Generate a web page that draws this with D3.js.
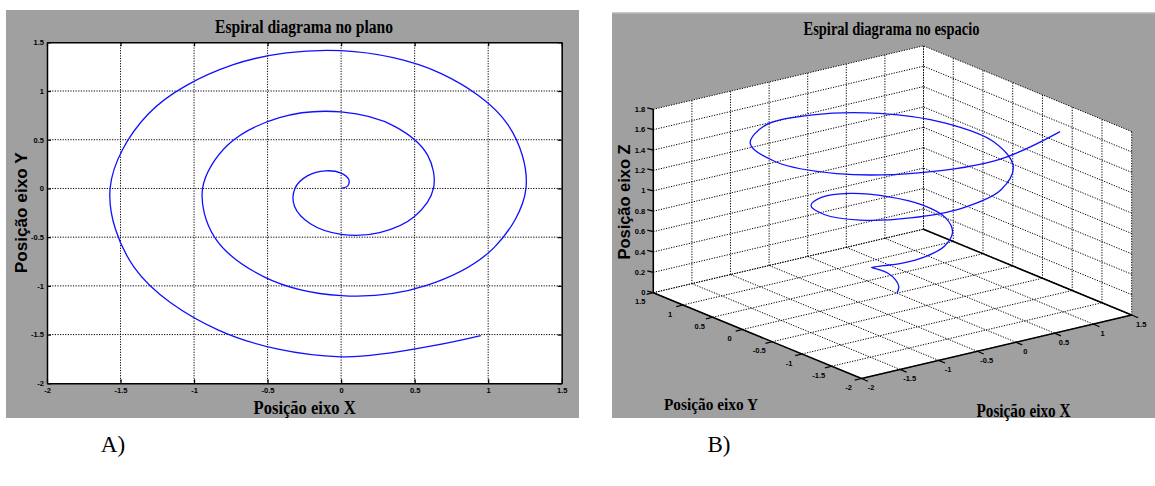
<!DOCTYPE html>
<html>
<head>
<meta charset="utf-8">
<script src="https://cdn.jsdelivr.net/npm/d3@7"></script>
<style>
  body { margin: 0; background: #fff; }
  svg { display: block; }
</style>
</head>
<body>
<div id="chart"></div>
<script>
// spiral points (one every 30 degrees of turn)
var xVals = [0, 0.045, 0.052, 0, -0.105, -0.227, -0.314, -0.317, -0.209, 0, 0.262, 0.499,
             0.628, 0.589, 0.367, 0, -0.419, -0.771, -0.942, -0.862, -0.524, 0, 0.576, 1.043,
             1.257, 1.134, 0.681, 0, -0.733, -1.315, -1.571, -1.406, -0.838, 0, 0.95];
var yVals = [0, 0.026, 0.091, 0.157, 0.181, 0.131, 0, -0.183, -0.363, -0.471, -0.453, -0.288,
             0, 0.340, 0.635, 0.785, 0.726, 0.445, 0, -0.497, -0.907, -1.100, -0.998, -0.602,
             0, 0.655, 1.179, 1.414, 1.270, 0.759, 0, -0.812, -1.451, -1.728, -1.51];
var zVals = [0, 0.05, 0.10, 0.16, 0.21, 0.26, 0.31, 0.37, 0.42, 0.47, 0.52, 0.58,
             0.63, 0.68, 0.73, 0.79, 0.84, 0.89, 0.94, 0.99, 1.05, 1.10, 1.15, 1.20,
             1.26, 1.31, 1.36, 1.41, 1.47, 1.52, 1.57, 1.62, 1.68, 1.73, 1.78];

var xTicks = [-2, -1.5, -1, -0.5, 0, 0.5, 1, 1.5];
var yTicks = [-2, -1.5, -1, -0.5, 0, 0.5, 1, 1.5];
var zTicks = [0, 0.2, 0.4, 0.6, 0.8, 1, 1.2, 1.4, 1.6, 1.8];

var titlePlano = "Espiral diagrama no plano",
    titleEspaco = "Espiral diagrama no espacio",
    labelX = "Posição eixo X",
    labelY = "Posição eixo Y",
    labelZ = "Posição eixo Z";

var width = 1155, height = 486;
var grey = "#a0a0a0";
var serif = "'Liberation Serif', 'Times New Roman', serif",
    sans = "'Liberation Sans', Arial, sans-serif";

var svg = d3.select("#chart").append("svg")
    .attr("width", width)
    .attr("height", height);

var idx = d3.range(xVals.length);
var fmt = function(d) { return String(d); };

// ---------- A) plano ----------
svg.append("rect").attr("x", 6).attr("y", 10).attr("width", 573).attr("height", 408).attr("fill", grey);

var xL = d3.scaleLinear().domain([-2, 1.5]).range([47, 561.7]),
    yL = d3.scaleLinear().domain([-2, 1.5]).range([383.3, 42.3]);

var left = svg.append("g");
left.append("rect")
    .attr("x", xL(-2)).attr("y", yL(1.5))
    .attr("width", xL(1.5) - xL(-2)).attr("height", yL(-2) - yL(1.5))
    .attr("fill", "#fff");

// dotted grid
left.append("g").selectAll("line").data(xTicks.slice(1, -1)).enter().append("line")
    .attr("x1", function(d) { return xL(d); }).attr("x2", function(d) { return xL(d); })
    .attr("y1", yL(1.5)).attr("y2", yL(-2));
left.append("g").selectAll("line").data(yTicks.slice(1, -1)).enter().append("line")
    .attr("y1", function(d) { return yL(d); }).attr("y2", function(d) { return yL(d); })
    .attr("x1", xL(-2)).attr("x2", xL(1.5));
left.selectAll("g line")
    .attr("stroke", "#000").attr("stroke-width", 1).attr("stroke-dasharray", "1.2,1.4");

function styleAxis(g) {
  g.select(".domain").attr("stroke", "#000").attr("stroke-width", 1.5);
  g.selectAll(".tick line").attr("stroke", "#000").attr("stroke-width", 1.2);
  g.selectAll(".tick text")
      .attr("fill", "#000")
      .style("font-family", sans).style("font-weight", "bold").style("font-size", "7.5px");
}

left.append("g").attr("transform", "translate(0," + yL(-2) + ")")
    .call(d3.axisBottom(xL).tickValues(xTicks).tickFormat(fmt).tickSize(-4).tickSizeOuter(0).tickPadding(4.5))
    .call(styleAxis);
left.append("g").attr("transform", "translate(" + xL(-2) + ",0)")
    .call(d3.axisLeft(yL).tickValues(yTicks).tickFormat(fmt).tickSize(-4).tickSizeOuter(0).tickPadding(3))
    .call(styleAxis);
left.append("g").attr("transform", "translate(0," + yL(1.5) + ")")
    .call(d3.axisTop(xL).tickValues(xTicks).tickFormat("").tickSize(-4).tickSizeOuter(0))
    .call(styleAxis);
left.append("g").attr("transform", "translate(" + xL(1.5) + ",0)")
    .call(d3.axisRight(yL).tickValues(yTicks).tickFormat("").tickSize(-4).tickSizeOuter(0))
    .call(styleAxis);

var line2d = d3.line()
    .x(function(i) { return xL(xVals[i]); })
    .y(function(i) { return yL(yVals[i]); })
    .curve(d3.curveCatmullRom.alpha(0.5));

left.append("path").datum(idx)
    .attr("d", line2d)
    .attr("fill", "none").attr("stroke", "#1010ff").attr("stroke-width", 1.3);

left.append("text").attr("x", 304).attr("y", 32.5)
    .attr("text-anchor", "middle").attr("textLength", 178).attr("lengthAdjust", "spacingAndGlyphs")
    .style("font-family", serif).style("font-weight", "bold").style("font-size", "18px")
    .text(titlePlano);
left.append("text").attr("x", 304.6).attr("y", 414)
    .attr("text-anchor", "middle").attr("textLength", 102).attr("lengthAdjust", "spacingAndGlyphs")
    .style("font-family", serif).style("font-weight", "bold").style("font-size", "19px")
    .text(labelX);
left.append("text").attr("transform", "translate(21,212.8) rotate(-90)").attr("dy", "0.35em")
    .attr("text-anchor", "middle").attr("textLength", 121).attr("lengthAdjust", "spacingAndGlyphs")
    .style("font-family", sans).style("font-weight", "bold").style("font-size", "17px")
    .text(labelY);

// ---------- B) espaco ----------
svg.append("rect").attr("x", 612).attr("y", 12).attr("width", 543).attr("height", 406).attr("fill", grey);
svg.append("rect").attr("x", 612).attr("y", 12).attr("width", 543).attr("height", 1.5).attr("fill", "#c8c8c8");

// orthographic view: unit fractions along each axis mapped onto screen vectors
var sx = d3.scaleLinear().domain([-2, 1.5]).range([0, 1]),
    sy = d3.scaleLinear().domain([-2, 1.5]).range([0, 1]),
    sz = d3.scaleLinear().domain([0, 1.8]).range([0, 1]);
var O = [861.5, 378.5], Vx = [270.2, -63.5], Vy = [-208.2, -85.8], Vz = [0, -183.4];

function proj(x, y, z) {
  var a = sx(x), b = sy(y), c = sz(z);
  return [O[0] + a * Vx[0] + b * Vy[0] + c * Vz[0],
          O[1] + a * Vx[1] + b * Vy[1] + c * Vz[1]];
}

var right = svg.append("g");

// white faces: floor, back-left wall (y = 1.5), back-right wall (x = 1.5)
var faces = [
  [[-2, -2, 0], [1.5, -2, 0], [1.5, 1.5, 0], [-2, 1.5, 0]],
  [[-2, 1.5, 0], [1.5, 1.5, 0], [1.5, 1.5, 1.8], [-2, 1.5, 1.8]],
  [[1.5, -2, 0], [1.5, 1.5, 0], [1.5, 1.5, 1.8], [1.5, -2, 1.8]]
];
right.append("g").selectAll("polygon").data(faces).enter().append("polygon")
    .attr("points", function(f) { return f.map(function(p) { return proj(p[0], p[1], p[2]).join(","); }).join(" "); })
    .attr("fill", "#fff");

// grid segments
var seg = [];
xTicks.forEach(function(x) {
  seg.push([[x, -2, 0], [x, 1.5, 0]]);
  seg.push([[x, 1.5, 0], [x, 1.5, 1.8]]);
});
yTicks.forEach(function(y) {
  seg.push([[-2, y, 0], [1.5, y, 0]]);
  seg.push([[1.5, y, 0], [1.5, y, 1.8]]);
});
zTicks.forEach(function(z) {
  seg.push([[-2, 1.5, z], [1.5, 1.5, z]]);
  seg.push([[1.5, -2, z], [1.5, 1.5, z]]);
});
right.append("g").selectAll("line").data(seg).enter().append("line")
    .attr("x1", function(s) { return proj.apply(null, s[0])[0]; })
    .attr("y1", function(s) { return proj.apply(null, s[0])[1]; })
    .attr("x2", function(s) { return proj.apply(null, s[1])[0]; })
    .attr("y2", function(s) { return proj.apply(null, s[1])[1]; })
    .attr("stroke", "#000").attr("stroke-width", 1).attr("stroke-dasharray", "1.2,1.4");

// solid axis lines
var axes = [
  [[-2, -2, 0], [1.5, -2, 0]],
  [[-2, -2, 0], [-2, 1.5, 0]],
  [[-2, 1.5, 0], [-2, 1.5, 1.8]],
  [[1.5, -2, 0], [1.5, 1.5, 0]]
];
right.append("g").selectAll("line").data(axes).enter().append("line")
    .attr("x1", function(s) { return proj.apply(null, s[0])[0]; })
    .attr("y1", function(s) { return proj.apply(null, s[0])[1]; })
    .attr("x2", function(s) { return proj.apply(null, s[1])[0]; })
    .attr("y2", function(s) { return proj.apply(null, s[1])[1]; })
    .attr("stroke", "#000").attr("stroke-width", 1.5);

// ticks and tick labels
function tickGroup(data, at, dx, dy, lx, ly, anchor) {
  var g = right.append("g");
  var t = g.selectAll("g").data(data).enter().append("g")
      .attr("transform", function(d) { var p = at(d); return "translate(" + p[0] + "," + p[1] + ")"; });
  t.append("line").attr("x2", dx).attr("y2", dy).attr("stroke", "#000").attr("stroke-width", 1.2);
  t.append("text").attr("x", lx).attr("y", ly).attr("dy", "0.35em")
      .attr("text-anchor", anchor)
      .style("font-family", sans).style("font-weight", "bold").style("font-size", "7.5px")
      .text(fmt);
}
tickGroup(xTicks, function(d) { return proj(d, -2, 0); }, 6.4, 2.7, 9.5, 9, "middle");
tickGroup(yTicks, function(d) { return proj(-2, d, 0); }, -6.8, 1.7, -13, 9, "middle");
tickGroup(zTicks, function(d) { return proj(-2, 1.5, d); }, -6, -1.5, -8, 0, "end");

var line3d = d3.line()
    .x(function(i) { return proj(xVals[i], yVals[i], zVals[i])[0]; })
    .y(function(i) { return proj(xVals[i], yVals[i], zVals[i])[1]; })
    .curve(d3.curveCatmullRom.alpha(0.5));

right.append("path").datum(idx)
    .attr("d", line3d)
    .attr("fill", "none").attr("stroke", "#1010ff").attr("stroke-width", 1.3);

right.append("text").attr("x", 891.5).attr("y", 34.5)
    .attr("text-anchor", "middle").attr("textLength", 176).attr("lengthAdjust", "spacingAndGlyphs")
    .style("font-family", serif).style("font-weight", "bold").style("font-size", "18px")
    .text(titleEspaco);
right.append("text").attr("x", 711).attr("y", 409.5)
    .attr("text-anchor", "middle").attr("textLength", 94).attr("lengthAdjust", "spacingAndGlyphs")
    .style("font-family", serif).style("font-weight", "bold").style("font-size", "17px")
    .text(labelY);
right.append("text").attr("x", 1023.5).attr("y", 416.5)
    .attr("text-anchor", "middle").attr("textLength", 94).attr("lengthAdjust", "spacingAndGlyphs")
    .style("font-family", serif).style("font-weight", "bold").style("font-size", "18px")
    .text(labelX);
right.append("text").attr("transform", "translate(624,202) rotate(-90)").attr("dy", "0.35em")
    .attr("text-anchor", "middle").attr("textLength", 115).attr("lengthAdjust", "spacingAndGlyphs")
    .style("font-family", sans).style("font-weight", "bold").style("font-size", "16px")
    .text(labelZ);

// panel captions
svg.append("text").attr("x", 113).attr("y", 452)
    .attr("text-anchor", "middle")
    .style("font-family", serif).style("font-size", "23px")
    .text("A)");
svg.append("text").attr("x", 719).attr("y", 452)
    .attr("text-anchor", "middle")
    .style("font-family", serif).style("font-size", "23px")
    .text("B)");
</script>
</body>
</html>
